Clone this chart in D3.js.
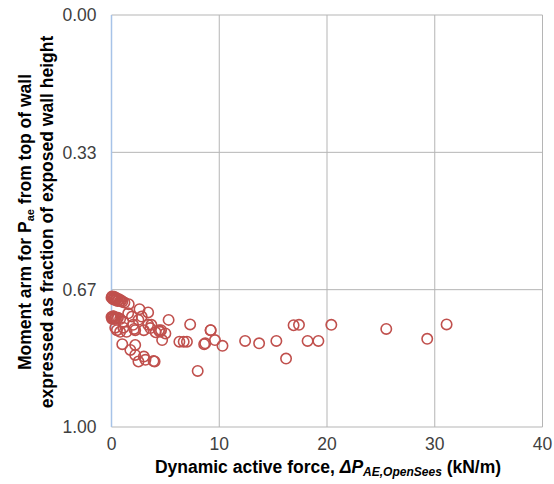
<!DOCTYPE html>
<html lang="en">
<head>
    <meta charset="UTF-8">
    <title>Moment arm vs dynamic active force</title>
    <script src="https://d3js.org/d3.v7.min.js"></script>
    <style>
        body {
            margin: 0;
            background: #fff;
            font-family: Arial, 'Liberation Sans', sans-serif;
        }
        .tick-label {
            font-size: 17.5px;
            fill: #404040;
        }
        .axis-title {
            font-size: 17.5px;
            font-weight: bold;
            fill: #000;
        }
    </style>
</head>
<body>
    <div id="chart"></div>

    <script>
        // dynamic active force (kN/m)
        const forceValues = [
            0.0, 0.1, 0.2, 0.3, 0.4, 0.5, 0.6, 0.7, 0.8, 0.9, 1.0, 1.2, 1.6, 2.6, 3.4, 5.3, 7.3, 9.2,
            0.05, 0.15, 0.25, 0.35, 0.45, 0.55,
            0.0, 0.1, 0.2, 0.3, 0.4, 0.5, 0.6, 0.8, 0.05, 0.15, 0.25,
            1.1, 1.55, 1.9, 2.0, 2.5, 2.8, 3.4, 3.7, 4.1, 4.5, 5.0, 4.7, 6.3, 6.7, 7.0,
            0.35, 1.1, 2.1, 3.0, 3.6, 4.4, 0.8, 1.4, 2.2, 4.6, 0.5,
            1.0, 2.2, 1.75, 2.2, 2.5, 3.0, 3.15, 3.9, 4.0,
            9.2, 8.6, 8.7, 9.6, 10.3, 12.4, 13.7, 15.3, 16.2, 16.9, 17.4, 18.2, 19.2, 20.4,
            25.5, 29.3, 31.1, 8.0
        ];
        // moment arm from top of wall as fraction of exposed wall height
        const armValues = [
            0.686, 0.684, 0.688, 0.686, 0.690, 0.689, 0.692, 0.690, 0.694, 0.693, 0.696, 0.698, 0.702, 0.714, 0.722, 0.740, 0.751, 0.765,
            0.683, 0.690, 0.684, 0.692, 0.687, 0.694,
            0.733, 0.735, 0.732, 0.736, 0.734, 0.737, 0.735, 0.738, 0.737, 0.731, 0.738,
            0.744, 0.724, 0.732, 0.752, 0.740, 0.732, 0.752, 0.752, 0.770, 0.769, 0.773, 0.789, 0.793, 0.793, 0.793,
            0.759, 0.759, 0.762, 0.765, 0.760, 0.765, 0.769, 0.769, 0.765, 0.765, 0.765,
            0.799, 0.801, 0.813, 0.825, 0.841, 0.829, 0.837, 0.840, 0.841,
            0.765, 0.799, 0.797, 0.789, 0.803, 0.791, 0.797, 0.791, 0.834, 0.753, 0.752, 0.791, 0.791, 0.752,
            0.762, 0.786, 0.751, 0.864
        ];

        const xTicks = [0, 10, 20, 30, 40];
        const yTicks = [0, 1 / 3, 2 / 3, 1];
        const yTickLabels = ["0.00", "0.33", "0.67", "1.00"];

        const width = 554, height = 484;
        const plotLeft = 111.5, plotRight = 542.5, plotTop = 15, plotBottom = 427;

        const svg = d3.select("#chart")
            .append("svg")
            .attr("width", width)
            .attr("height", height);

        const x = d3.scaleLinear().domain([0, 40]).range([plotLeft, plotRight]);
        const y = d3.scaleLinear().domain([0, 1]).range([plotTop, plotBottom]);

        // gridlines
        svg.append("g")
            .selectAll("line")
            .data(xTicks.slice(1))
            .enter().append("line")
            .attr("x1", d => x(d)).attr("x2", d => x(d))
            .attr("y1", plotTop).attr("y2", plotBottom)
            .attr("stroke", "#b5b5b5")
            .attr("stroke-width", 1);

        svg.append("g")
            .selectAll("line")
            .data(yTicks)
            .enter().append("line")
            .attr("x1", plotLeft).attr("x2", plotRight)
            .attr("y1", d => y(d)).attr("y2", d => y(d))
            .attr("stroke", "#b5b5b5")
            .attr("stroke-width", 1);

        // vertical axis line
        svg.append("line")
            .attr("x1", plotLeft).attr("x2", plotLeft)
            .attr("y1", plotTop).attr("y2", plotBottom)
            .attr("stroke", "#a7c3e8")
            .attr("stroke-width", 1.5);

        // tick labels
        svg.append("g")
            .selectAll("text")
            .data(yTicks)
            .enter().append("text")
            .attr("class", "tick-label")
            .attr("x", plotLeft - 15)
            .attr("y", d => y(d))
            .attr("dy", "0.36em")
            .attr("text-anchor", "end")
            .text((d, i) => yTickLabels[i]);

        svg.append("g")
            .selectAll("text")
            .data(xTicks)
            .enter().append("text")
            .attr("class", "tick-label")
            .attr("x", d => x(d))
            .attr("y", 450)
            .attr("text-anchor", "middle")
            .text(d => d);

        // points
        const points = forceValues.map((f, i) => ({f: f, a: armValues[i]}));

        svg.append("g")
            .selectAll("circle")
            .data(points)
            .enter().append("circle")
            .attr("cx", d => x(d.f))
            .attr("cy", d => y(d.a))
            .attr("r", 5.2)
            .attr("fill", "none")
            .attr("stroke", "#c0504d")
            .attr("stroke-width", 1.6);

        // x title
        const xt = svg.append("text")
            .attr("class", "axis-title")
            .attr("x", 328)
            .attr("y", 473)
            .attr("text-anchor", "middle");
        xt.append("tspan").text("Dynamic active force, ");
        xt.append("tspan").style("font-style", "italic").text("ΔP");
        xt.append("tspan").style("font-style", "italic").style("font-size", "12px")
            .attr("dy", 3).text("AE,OpenSees");
        xt.append("tspan").attr("dy", -3).text(" (kN/m)");

        // y title (two lines)
        const yt1 = svg.append("text")
            .attr("class", "axis-title")
            .attr("transform", "translate(31,222) rotate(-90)")
            .attr("text-anchor", "middle");
        yt1.append("tspan").text("Moment arm for P");
        yt1.append("tspan").style("font-size", "11px").attr("dy", 3).text("ae");
        yt1.append("tspan").attr("dy", -3).text(" from top of wall");

        svg.append("text")
            .attr("class", "axis-title")
            .attr("transform", "translate(53,222) rotate(-90)")
            .attr("text-anchor", "middle")
            .text("expressed as fraction of exposed wall height");
    </script>
</body>
</html>
